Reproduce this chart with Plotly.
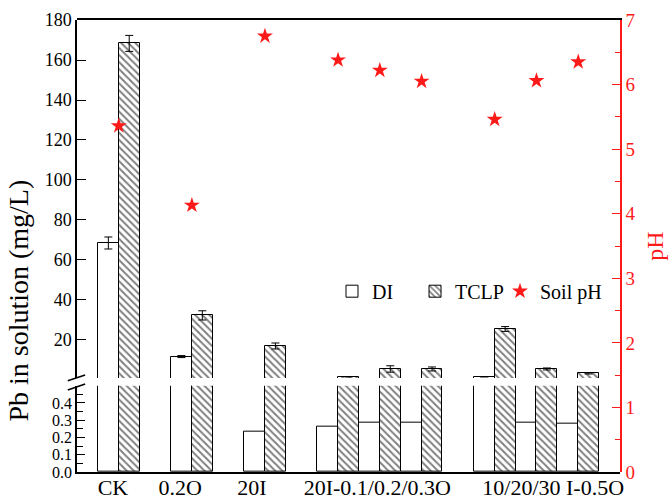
import plotly.graph_objects as go

# ---- data ----
categories = ["CK", "0.2O", "20I", "20I-0.1O", "20I-0.2O", "20I-0.3O",
              "10I-0.5O", "20I-0.5O", "30I-0.5O"]
x_pos = [1, 2.75, 4.5, 6.25, 7.25, 8.25, 10, 11, 12]
di_vals = [68.5, 11.7, 0.231, 0.263, 0.288, 0.284, 1.6, 0.284, 0.282]
di_err = [3.0, 0.5, 0, 0, 0, 0, 0, 0, 0]
tclp_vals = [168.3, 32.3, 17.0, 1.6, 5.5, 5.5, 25.5, 5.5, 3.3]
tclp_err = [4.0, 2.3, 1.5, 0, 1.6, 1.0, 1.2, 0.5, 0.3]
soil_ph = [5.36, 4.13, 6.75, 6.38, 6.22, 6.05, 5.46, 6.06, 6.35]

tick_pos = [0.86, 2.47, 4.19, 7.19, 11.4]
tick_text = ["CK", "0.2O", "20I", "20I-0.1/0.2/0.3O", "10/20/30 I-0.5O"]

FONT = "Liberation Serif"
RED = "#ff1a1a"

fig = go.Figure()

hatch = dict(shape="\\", fgcolor="black", bgcolor="white", size=5, solidity=0.4)
eb = lambda arr: dict(type="data", array=arr, color="black", thickness=1, width=4)

# lower segment (y)
fig.add_trace(go.Bar(x=x_pos, y=di_vals, name="DI", xaxis="x", yaxis="y",
                     marker=dict(color="white", line=dict(color="black", width=1)),
                     showlegend=False, legendgroup="DI"))
fig.add_trace(go.Bar(x=x_pos, y=tclp_vals, name="TCLP", xaxis="x", yaxis="y",
                     marker=dict(color="white", pattern=hatch,
                                 line=dict(color="black", width=1)),
                     showlegend=False, legendgroup="TCLP"))
# upper segment (y2)
fig.add_trace(go.Bar(x=x_pos, y=di_vals, name="DI", xaxis="x", yaxis="y2",
                     error_y=eb(di_err), legend="legend",
                     marker=dict(color="white", line=dict(color="black", width=1)),
                     legendgroup="DI"))
fig.add_trace(go.Bar(x=x_pos, y=tclp_vals, name="TCLP", xaxis="x", yaxis="y2",
                     error_y=eb(tclp_err), legend="legend2",
                     marker=dict(color="white", pattern=hatch,
                                 line=dict(color="black", width=1)),
                     legendgroup="TCLP"))
# pH
fig.add_trace(go.Scatter(x=x_pos, y=soil_ph, name="Soil pH", mode="markers",
                         xaxis="x2", yaxis="y3", legend="legend3",
                         marker=dict(symbol="star", size=12, color=RED,
                                     line=dict(width=0))))

lower_top = 0.191
upper_bot = 0.208

leg = dict(orientation="h", y=0.40, xanchor="left", yanchor="middle",
           bgcolor="rgba(0,0,0,0)", font=dict(size=20), itemwidth=30)

fig.update_layout(
    width=670, height=499,
    margin=dict(l=77, r=50, t=20, b=27, autoexpand=False),
    paper_bgcolor="white", plot_bgcolor="rgba(0,0,0,0)",
    font=dict(family=FONT, size=18, color="black"),
    barmode="group", bargap=0, bargroupgap=0,
    xaxis=dict(range=[0, 13], domain=[0, 1], anchor="y", automargin=False,
               tickvals=tick_pos, ticktext=tick_text, ticks="",
               ticklabelstandoff=-5,
               tickfont=dict(size=22), showline=True, linecolor="black",
               linewidth=1.5, showgrid=False, zeroline=False),
    xaxis2=dict(range=[0, 13], domain=[0, 1], anchor="y3", side="top",
                automargin=False, showticklabels=False, ticks="",
                showline=True, linecolor="black", linewidth=1.5,
                showgrid=False, zeroline=False),
    yaxis=dict(range=[0, 0.5], domain=[0, lower_top], anchor="x", automargin=False,
               tickvals=[0, 0.1, 0.2, 0.3, 0.4],
               ticktext=["0.0", "0.1", "0.2", "0.3", "0.4"],
               ticks="inside", ticklen=8, tickcolor="black",
               minor=dict(dtick=0.05, ticks="inside", ticklen=6, tickcolor="black"),
               showline=True, linecolor="black", linewidth=1.5,
               showgrid=False, zeroline=False, tickfont=dict(size=16)),
    yaxis2=dict(range=[1, 180], domain=[upper_bot, 1], anchor="x", automargin=False,
                tickvals=[20, 40, 60, 80, 100, 120, 140, 160, 180],
                ticks="inside", ticklen=9, tickcolor="black",
                showline=True, linecolor="black", linewidth=1.5,
                showgrid=False, zeroline=False, tickfont=dict(size=18)),
    yaxis3=dict(range=[0, 7], domain=[0, 1], anchor="x2", side="right",
                automargin=False,
                dtick=1, ticks="inside", ticklen=8, tickcolor=RED,
                minor=dict(dtick=0.5, ticks="inside", ticklen=5, tickcolor=RED),
                showline=True, linecolor=RED, linewidth=1.5,
                showgrid=False, zeroline=False,
                tickfont=dict(size=19, color=RED),
                title=dict(text="pH", font=dict(size=24, color=RED), standoff=12)),
    legend=dict(leg, x=0.4696),
    legend2=dict(leg, x=0.6225),
    legend3=dict(leg, x=0.779),
    annotations=[dict(text="Pb in solution (mg/L)", textangle=-90,
                      xref="paper", yref="paper", x=-0.108, y=0.38,
                      xanchor="center", yanchor="middle", showarrow=False,
                      font=dict(size=28))],
    shapes=[
        dict(type="line", xref="paper", yref="paper", x0=-0.017, y0=0.202,
             x1=0.015, y1=0.2146, line=dict(color="black", width=1.5)),
        dict(type="line", xref="paper", yref="paper", x0=-0.017, y0=0.1814,
             x1=0.015, y1=0.1947, line=dict(color="black", width=1.5)),
    ],
)

fig.write_html("out.html")
